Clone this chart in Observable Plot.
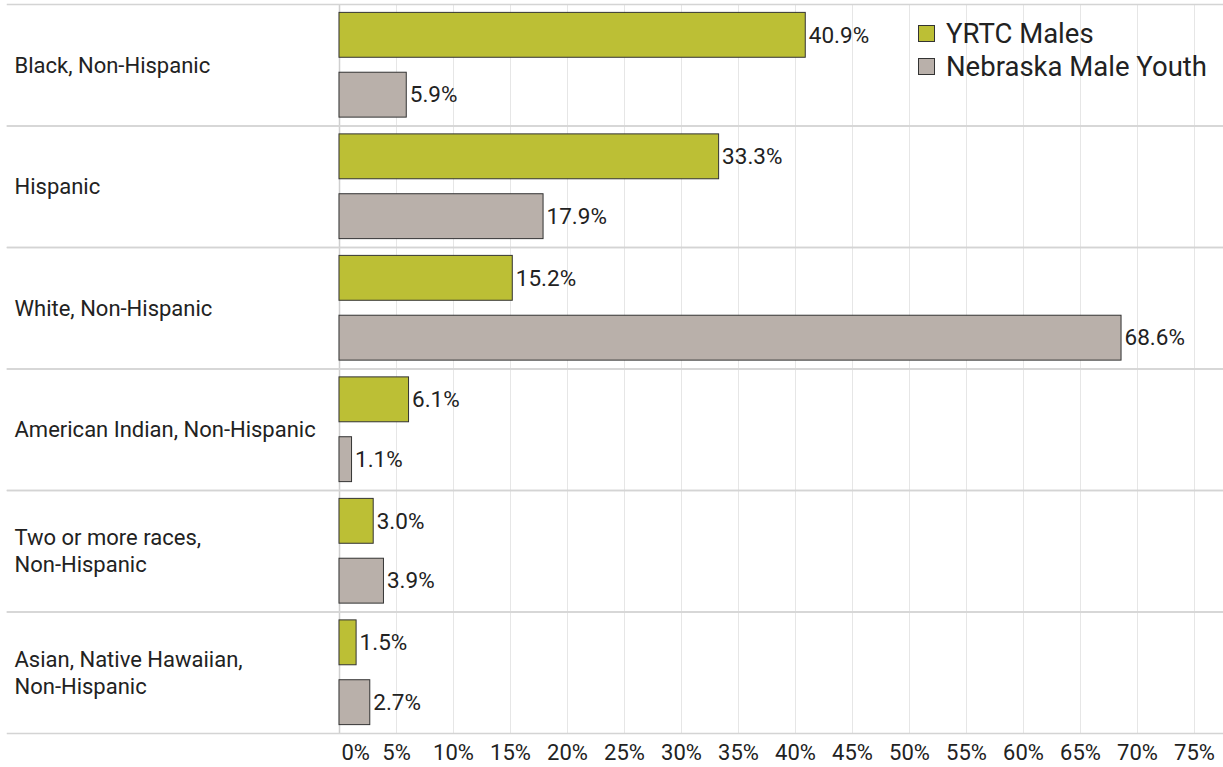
<!DOCTYPE html>
<html>
<head>
<meta charset="utf-8">
<script src="https://cdn.jsdelivr.net/npm/d3@7"></script>
<script src="https://cdn.jsdelivr.net/npm/@observablehq/plot@0.6"></script>
<style>
  html, body { margin: 0; padding: 0; background: #fff; }
  #wrap { position: relative; width: 1223px; height: 767px; font-family: Roboto, sans-serif; }
  #legend { position: absolute; left: 918px; top: 17px; font-size: 27.5px; color: #222; line-height: 33px; }
  #legend .item { display: flex; align-items: center; }
  #legend .sw { width: 15px; height: 15px; border: 1.5px solid #333; margin-right: 11px; box-sizing: content-box; }
</style>
</head>
<body>
<div id="wrap"><div id="legend"></div></div>
<script>
const categories = [
  "Black, Non-Hispanic",
  "Hispanic",
  "White, Non-Hispanic",
  "American Indian, Non-Hispanic",
  "Two or more races,\nNon-Hispanic",
  "Asian, Native Hawaiian,\nNon-Hispanic"
];
const seriesNames = ["YRTC Males", "Nebraska Male Youth"];
const yrtcValues = [40.9, 33.3, 15.2, 6.1, 3.0, 1.5];
const nebraskaValues = [5.9, 17.9, 68.6, 1.1, 3.9, 2.7];
const seriesColors = ["#bcbf35", "#b9b0aa"];
const xTicks = [0, 5, 10, 15, 20, 25, 30, 35, 40, 45, 50, 55, 60, 65, 70, 75];

const rows = [];
categories.forEach((c, i) => {
  rows.push({category: c, series: seriesNames[0], value: yrtcValues[i]});
  rows.push({category: c, series: seriesNames[1], value: nebraskaValues[i]});
});

const chart = Plot.plot({
  width: 1223,
  height: 767,
  marginTop: 4,
  marginBottom: 34,
  marginLeft: 7,
  marginRight: 0,
  style: {fontFamily: "Roboto, sans-serif", color: "#222", background: "#fff"},
  x: {domain: [0, 75], range: [339, 1194]},
  y: {domain: seriesNames, axis: null, paddingInner: 0.25, paddingOuter: 0.14, round: false},
  fy: {domain: categories, axis: null, padding: 0, round: false},
  color: {domain: seriesNames, range: seriesColors},
  marks: [
    Plot.gridX(xTicks.filter(d => d > 0), {stroke: "#e6e6e6", strokeOpacity: 1, strokeWidth: 1}),
    Plot.gridX([0], {stroke: "#cfcfcf", strokeOpacity: 1, strokeWidth: 1.5}),
    Plot.frame({anchor: "top", stroke: "#d4d4d4", strokeWidth: 1.5}),
    Plot.frame({anchor: "bottom", stroke: "#d4d4d4", strokeWidth: 1.5}),
    Plot.barX(rows, {x: "value", y: "series", fy: "category", fill: "series", stroke: "#333", strokeWidth: 1}),
    Plot.text(rows, {x: "value", y: "series", fy: "category", text: d => d.value.toFixed(1) + "%",
      textAnchor: "start", dx: 3, fontSize: 22.5, fill: "#222"}),
    Plot.text(categories, {fy: d => d, text: d => d, frameAnchor: "left", textAnchor: "start",
      dx: 7, dy: -1, fontSize: 22, lineHeight: 1.22, fill: "#222"}),
    Plot.axisX(xTicks.filter(d => d > 0), {anchor: "bottom", tickSize: 0, tickPadding: 11,
      tickFormat: d => d + "%", fontSize: 22, label: null, fill: "#222"}),
    Plot.axisX([0], {anchor: "bottom", tickSize: 0, tickPadding: 11, textAnchor: "start", dx: 2,
      tickFormat: d => d + "%", fontSize: 22, label: null, fill: "#222"})
  ]
});
const wrap = document.getElementById("wrap");
wrap.insertBefore(chart, wrap.firstChild);

const legend = document.getElementById("legend");
seriesNames.forEach((s, i) => {
  const item = document.createElement("div");
  item.className = "item";
  const sw = document.createElement("span");
  sw.className = "sw";
  sw.style.background = seriesColors[i];
  const t = document.createElement("span");
  t.textContent = s;
  item.appendChild(sw);
  item.appendChild(t);
  legend.appendChild(item);
});
</script>
</body>
</html>
